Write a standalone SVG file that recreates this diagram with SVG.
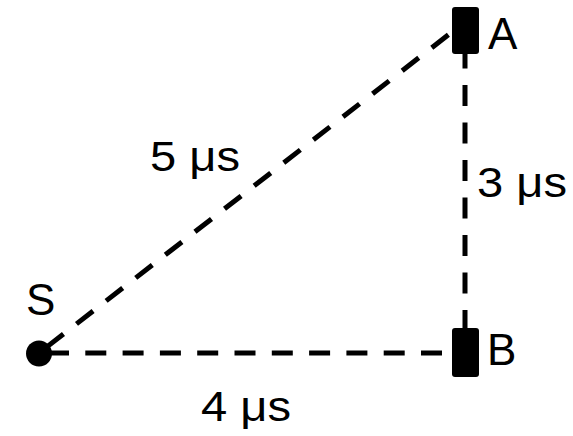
<svg xmlns="http://www.w3.org/2000/svg" width="573" height="436" viewBox="0 0 573 436">
<style>
.dash{stroke:#000;stroke-width:5;fill:none;stroke-dasharray:21 16.5}
.lbl{font-family:"Liberation Sans",Arial,sans-serif;font-size:44px;fill:#000}
.val{font-family:"Liberation Sans",Arial,sans-serif;font-size:43px;fill:#000}
</style>
<rect width="573" height="436" fill="#fff"/>
<g id="connectors">
<line class="dash" x1="46.9" y1="346.9" x2="452" y2="32"/>
<line class="dash" x1="48" y1="353" x2="452" y2="353" style="stroke-dasharray:21 16.3"/>
<line class="dash" x1="465" y1="47.5" x2="465" y2="328"/>
</g>
<g id="S">
<circle cx="39" cy="353.5" r="13" fill="#000"/>
<text class="lbl" x="26" y="315">S</text>
</g>
<g id="A">
<rect x="452" y="7" width="27" height="47" rx="3" fill="#000"/>
<text class="lbl" x="488" y="49">A</text>
</g>
<g id="B">
<rect x="452" y="328" width="27" height="49" rx="3" fill="#000"/>
<text class="lbl" x="487" y="365">B</text>
</g>
<g id="labels">
<text class="val" x="150" y="171" textLength="90" lengthAdjust="spacingAndGlyphs">5 μs</text>
<text class="val" x="477" y="197" textLength="90" lengthAdjust="spacingAndGlyphs">3 μs</text>
<text class="val" x="201" y="421" textLength="90" lengthAdjust="spacingAndGlyphs">4 μs</text>
</g>
</svg>
